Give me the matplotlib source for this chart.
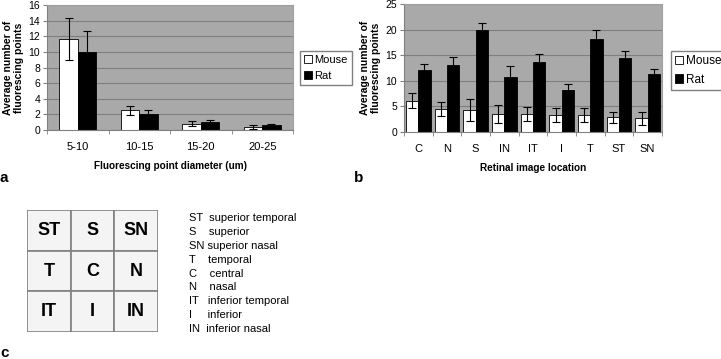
import numpy as np
import matplotlib.pyplot as plt
from matplotlib.patches import Rectangle

plt.rcParams['font.family'] = ['Liberation Sans', 'DejaVu Sans']

# panel a: diameter classes
diam = ['5-10', '10-15', '15-20', '20-25']
mouse_a = [11.6, 2.5, 0.8, 0.4]
mouse_a_err = [2.7, 0.6, 0.3, 0.25]
rat_a = [10.0, 2.0, 1.0, 0.6]
rat_a_err = [2.7, 0.5, 0.3, 0.2]

# panel b: retinal locations
loc = ['C', 'N', 'S', 'IN', 'IT', 'I', 'T', 'ST', 'SN']
mouse_b = [6.1, 4.5, 4.3, 3.5, 3.5, 3.3, 3.3, 2.9, 2.7]
mouse_b_err = [1.5, 1.3, 2.2, 1.7, 1.3, 1.4, 1.4, 1.1, 1.3]
rat_b = [12.1, 13.0, 19.9, 10.8, 13.6, 8.2, 18.1, 14.5, 11.3]
rat_b_err = [1.2, 1.7, 1.4, 2.0, 1.6, 1.1, 1.8, 1.4, 1.1]

# panel c: grid and key
grid = [['ST', 'S', 'SN'], ['T', 'C', 'N'], ['IT', 'I', 'IN']]
key = ['ST  superior temporal', 'S    superior', 'SN superior nasal',
       'T    temporal', 'C    central', 'N    nasal',
       'IT   inferior temporal', 'I     inferior', 'IN  inferior nasal']

W, H = 721, 359
fig = plt.figure(figsize=(W/100, H/100), dpi=100)

def px(x0, y0, x1, y1):
    return [x0/W, 1-y1/H, (x1-x0)/W, (y1-y0)/H]

def barpanel(ax, cats, m, me, r, re, ymax, step, bw, xlabel):
    x = np.arange(len(cats))
    ax.set_facecolor('#a9a9a9')
    ax.bar(x-bw/2, m, bw, color='white', edgecolor='black', lw=0.6, zorder=2, label='Mouse')
    ax.bar(x+bw/2, r, bw, color='black', edgecolor='black', lw=0.6, zorder=2, label='Rat')
    ax.errorbar(x-bw/2, m, yerr=me, fmt='none', ecolor='black', elinewidth=0.8, capsize=3, capthick=0.8, zorder=3)
    ax.errorbar(x+bw/2, r, yerr=re, fmt='none', ecolor='black', elinewidth=0.8, capsize=3, capthick=0.8, zorder=3)
    ax.set_xlim(-0.5, len(cats)-0.5)
    ax.set_ylim(0, ymax)
    ax.set_yticks(np.arange(0, ymax+0.1, step))
    ax.yaxis.grid(True, color='#7f7f7f', lw=0.8, zorder=0)
    ax.set_axisbelow(True)
    ax.set_xticks(x)
    ax.set_xticklabels(cats)
    ax.set_xticks(np.arange(-0.5, len(cats)), minor=True)
    ax.tick_params(axis='x', which='major', length=0, labelsize=8, pad=9)
    ax.tick_params(axis='x', which='minor', length=3, color='#808080')
    ax.tick_params(axis='y', length=3, color='#808080', labelsize=7.5, pad=2)
    for s in ['top', 'right']:
        ax.spines[s].set_color('#a0a0a0')
    for s in ['left', 'bottom']:
        ax.spines[s].set_color('#808080')
    ax.set_xlabel(xlabel, fontsize=7.2, fontweight='bold', labelpad=6)
    ax.set_ylabel('Average number of\nfluorescing points', fontsize=7.5, fontweight='bold', labelpad=3)

def legend(ax, xpx, size):
    ax.legend(loc='upper left', bbox_to_anchor=(xpx/W, 1-51/H), bbox_transform=fig.transFigure,
              fontsize=size, frameon=True, fancybox=False, edgecolor='#808080', framealpha=1,
              handlelength=0.7, handleheight=0.7, handletextpad=0.25, borderpad=0.35,
              labelspacing=0.55, borderaxespad=0)

axa = fig.add_axes(px(47, 5, 293, 130))
barpanel(axa, diam, mouse_a, mouse_a_err, rat_a, rat_a_err, 16, 2, 0.3, 'Fluorescing point diameter (um)')
legend(axa, 300, 8)

axb = fig.add_axes(px(404, 4, 662, 132))
barpanel(axb, loc, mouse_b, mouse_b_err, rat_b, rat_b_err, 25, 5, 0.43, 'Retinal image location')
legend(axb, 671, 8.5)

fig.text(0/W, 1-178/H, 'a', fontsize=11, fontweight='bold', va='center', ha='left')
fig.text(354/W, 1-178/H, 'b', fontsize=11, fontweight='bold', va='center', ha='left')
fig.text(0/W, 1-353/H, 'c', fontsize=11, fontweight='bold', va='center', ha='left')

axc = fig.add_axes(px(27, 210, 158, 332))
axc.set_xlim(0, 3)
axc.set_ylim(3, 0)
axc.axis('off')
for i, row in enumerate(grid):
    for j, lab in enumerate(row):
        axc.add_patch(Rectangle((j, i), 1, 1, facecolor='#f4f4f4', edgecolor='#808080', lw=1.2))
        axc.text(j+0.5, i+0.5, lab, ha='center', va='center', fontsize=13, fontweight='bold')

for k, line in enumerate(key):
    fig.text(189/W, 1-(218+k*13.9)/H, line, fontsize=8, va='center', ha='left')

fig.savefig('out.png', dpi=100)
